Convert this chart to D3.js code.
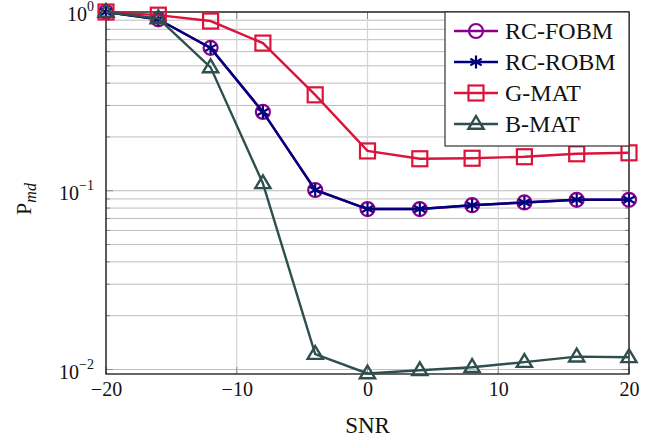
<!DOCTYPE html>
<html>
<head>
<meta charset="utf-8">
<script src="https://cdn.jsdelivr.net/npm/d3@7"></script>
<style>
  html, body { margin: 0; padding: 0; background: #fff; }
  svg { display: block; }
  text { font-family: "Liberation Serif", "DejaVu Serif", serif; fill: #111; }
</style>
</head>
<body>
<svg id="chart" width="665" height="443"></svg>
<script>
// SNR sweep (dB)
const snr = [-20, -16, -12, -8, -4, 0, 4, 8, 12, 16, 20];

// Missed-detection probability for each detector
const rcFobm = [1.0, 0.91, 0.63, 0.276, 0.101, 0.079, 0.079, 0.083, 0.086, 0.089, 0.089];
const rcRobm = [1.0, 0.91, 0.63, 0.276, 0.101, 0.079, 0.079, 0.083, 0.086, 0.089, 0.089];
const gMat   = [1.0, 0.96, 0.89, 0.67, 0.344, 0.167, 0.151, 0.152, 0.155, 0.161, 0.163];
const bMat   = [1.0, 0.92, 0.49, 0.11, 0.0122, 0.0095, 0.0099, 0.0103, 0.0110, 0.0118, 0.0117];

const seriesNames = ["RC-FOBM", "RC-ROBM", "G-MAT", "B-MAT"];
const xTicks = [-20, -10, 0, 10, 20];
const yTicks = [1e-2, 1e-1, 1];

const series = [
  { name: seriesNames[0], values: rcFobm, color: "#8b008b", marker: "circle" },
  { name: seriesNames[1], values: rcRobm, color: "#00007f", marker: "star" },
  { name: seriesNames[2], values: gMat,   color: "#dc143c", marker: "square" },
  { name: seriesNames[3], values: bMat,   color: "#2f4f4f", marker: "triangle" }
];

const svg = d3.select("#chart");
const L = 106, R = 629, T = 12, B = 374;

const x = d3.scaleLinear().domain([-20, 20]).range([L, R]);
const y = d3.scaleLog().domain([Math.pow(10, -2 - 4.5 / 179), 1]).range([B, T]);

// Grid: vertical lines at major x ticks, horizontal lines at every log step
const grid = svg.append("g");
const minorY = [];
for (let e = -3; e <= 0; e++) for (let m = 1; m <= 9; m++) {
  const v = m * Math.pow(10, e);
  if (v >= y.domain()[0] && v <= 1) minorY.push(v);
}
grid.selectAll("line.hy").data(minorY).join("line")
  .attr("x1", L).attr("x2", R)
  .attr("y1", d => y(d)).attr("y2", d => y(d))
  .attr("stroke", "#bdbdbd").attr("stroke-width", 1);
grid.selectAll("line.vx").data(xTicks).join("line")
  .attr("x1", d => x(d)).attr("x2", d => x(d))
  .attr("y1", T).attr("y2", B)
  .attr("stroke", "#d4d4d4").attr("stroke-width", 1.2);

// Inner tick marks
const ticks = svg.append("g").attr("stroke", "#8a8a8a").attr("stroke-width", 1);
minorY.forEach(v => {
  const len = yTicks.some(t => Math.abs(t - v) < 1e-12) ? 7 : 4;
  ticks.append("line").attr("x1", L).attr("x2", L + len).attr("y1", y(v)).attr("y2", y(v));
  ticks.append("line").attr("x1", R).attr("x2", R - len).attr("y1", y(v)).attr("y2", y(v));
});
xTicks.forEach(v => {
  ticks.append("line").attr("x1", x(v)).attr("x2", x(v)).attr("y1", B).attr("y2", B - 7);
  ticks.append("line").attr("x1", x(v)).attr("x2", x(v)).attr("y1", T).attr("y2", T + 7);
});

// Axis frame
svg.append("rect").attr("x", L).attr("y", T).attr("width", R - L).attr("height", B - T)
  .attr("fill", "none").attr("stroke", "#000").attr("stroke-width", 1.2);

// X tick labels
const xAxis = d3.axisBottom(x).tickValues(xTicks).tickSize(0).tickPadding(8)
  .tickFormat(d => d < 0 ? "\u2212" + Math.abs(d) : String(d));
const gx = svg.append("g").attr("transform", `translate(0,${B})`).call(xAxis);
gx.attr("font-family", null).attr("font-size", null);
gx.select(".domain").remove();
gx.selectAll("text").style("font-size", "20px")
  .style("font-family", "'Liberation Serif', 'DejaVu Serif', serif").attr("fill", "#111");

// Y tick labels 10^k
const gy = svg.append("g");
yTicks.forEach(v => {
  const e = Math.round(Math.log10(v));
  const t = gy.append("text").attr("x", L - 12).attr("y", y(v) + 9)
    .attr("text-anchor", "end").style("font-size", "20px");
  t.append("tspan").text("10");
  t.append("tspan").attr("dy", -10).style("font-size", "14px").text(e === 0 ? "0" : "\u2212" + Math.abs(e));
});

// Axis titles
svg.append("text").attr("x", (L + R) / 2).attr("y", 433).attr("text-anchor", "middle")
  .style("font-size", "23px").text("SNR");
const yl = svg.append("text").attr("transform", `translate(31,199) rotate(-90)`)
  .attr("text-anchor", "middle").style("font-size", "22px");
yl.append("tspan").text("P");
yl.append("tspan").attr("dy", 5).style("font-size", "16px").style("font-style", "italic").text("md");

// Marker drawing
function drawMarker(g, type, color, cx, cy) {
  if (type === "circle") {
    g.append("circle").attr("cx", cx).attr("cy", cy).attr("r", 7)
      .attr("fill", "none").attr("stroke", color).attr("stroke-width", 2.2);
  } else if (type === "star") {
    const r = 6.5;
    for (let k = 0; k < 3; k++) {
      const a = Math.PI / 2 + k * Math.PI / 3;
      g.append("line")
        .attr("x1", cx + r * Math.cos(a)).attr("y1", cy - r * Math.sin(a))
        .attr("x2", cx - r * Math.cos(a)).attr("y2", cy + r * Math.sin(a))
        .attr("stroke", color).attr("stroke-width", 2.2);
    }
  } else if (type === "square") {
    g.append("rect").attr("x", cx - 7.5).attr("y", cy - 7.5).attr("width", 15).attr("height", 15)
      .attr("fill", "none").attr("stroke", color).attr("stroke-width", 2.2);
  } else if (type === "triangle") {
    const s = 8;
    g.append("path")
      .attr("d", `M${cx},${cy - s}L${cx + s * 0.95},${cy + s * 0.6}L${cx - s * 0.95},${cy + s * 0.6}Z`)
      .attr("fill", "none").attr("stroke", color).attr("stroke-width", 2.4).attr("stroke-linejoin", "miter");
  }
}

// Series lines and markers
const line = d3.line().x(d => x(d[0])).y(d => y(d[1]));
const plot = svg.append("g");
series.forEach(s => {
  const pts = snr.map((v, i) => [v, s.values[i]]);
  const g = plot.append("g");
  g.append("path").datum(pts).attr("d", line)
    .attr("fill", "none").attr("stroke", s.color).attr("stroke-width", 2.4);
  pts.forEach(p => drawMarker(g, s.marker, s.color, x(p[0]), y(p[1])));
});

// Legend
const lg = svg.append("g");
lg.append("rect").attr("x", 445).attr("y", 12).attr("width", 184).attr("height", 134)
  .attr("fill", "#fff").attr("stroke", "#333").attr("stroke-width", 1.2);
series.forEach((s, i) => {
  const cy = 31 + i * 31;
  lg.append("line").attr("x1", 454).attr("x2", 498).attr("y1", cy).attr("y2", cy)
    .attr("stroke", s.color).attr("stroke-width", 2.4);
  drawMarker(lg, s.marker, s.color, 476, cy);
  lg.append("text").attr("x", 505).attr("y", cy + 8).style("font-size", "24px").text(s.name);
});
</script>
</body>
</html>
